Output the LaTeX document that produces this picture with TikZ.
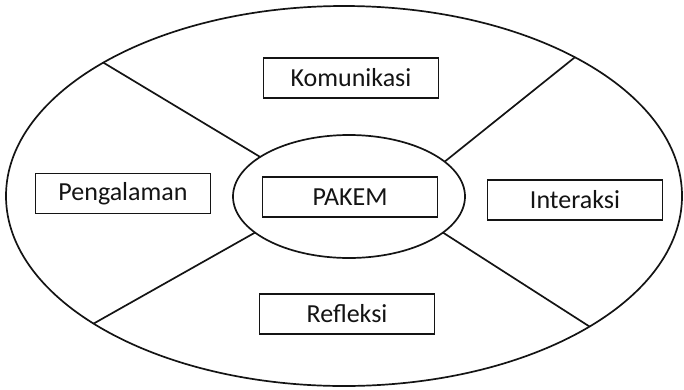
\documentclass[tikz,border=0pt]{standalone}
\usepackage{fontspec}
\setmainfont{Carlito}
\usepackage{tikz}
\usetikzlibrary{positioning,shapes.geometric}
\definecolor{inkBlack}{RGB}{20, 20, 20}

\begin{document}
\begin{tikzpicture}[x=1pt, y=-1pt,
        ringLine/.style={draw=inkBlack, line width=1.7pt},
        labelBox/.style={draw=inkBlack, line width=1.5pt, fill=white, minimum width=175pt, minimum height=40pt, inner sep=0pt,
            font=\fontsize{26pt}{30pt}\selectfont, text=inkBlack}]
    \useasboundingbox (0,0) rectangle (684,389);
    % outer and inner ellipse
    \node[ringLine, ellipse, minimum width=676pt, minimum height=380pt, inner sep=0pt, outer sep=0pt] (rim) at (344,196) {};
    \node[ringLine, ellipse, minimum width=232pt, minimum height=123pt, inner sep=0pt, outer sep=0pt] (core) at (349,196.5) {};
    % spokes
    \draw[ringLine] (core.156) -- (rim.151);
    \draw[ringLine] (core.20) -- (rim.31);
    \draw[ringLine] (core.201) -- (rim.207);
    \draw[ringLine] (core.-21) -- (rim.-28);
    % labels
    \node[labelBox] (pakem) at (350,197) {PAKEM};
    \node[labelBox] (komunikasi) at (351,78) {Komunikasi};
    \node[labelBox] (pengalaman) at (123,193.5) {Pengalaman};
    \node[labelBox] (interaksi) at (575,200) {Interaksi};
    \node[labelBox] (refleksi) at (347,314) {Refleksi};
\end{tikzpicture}
\end{document}
